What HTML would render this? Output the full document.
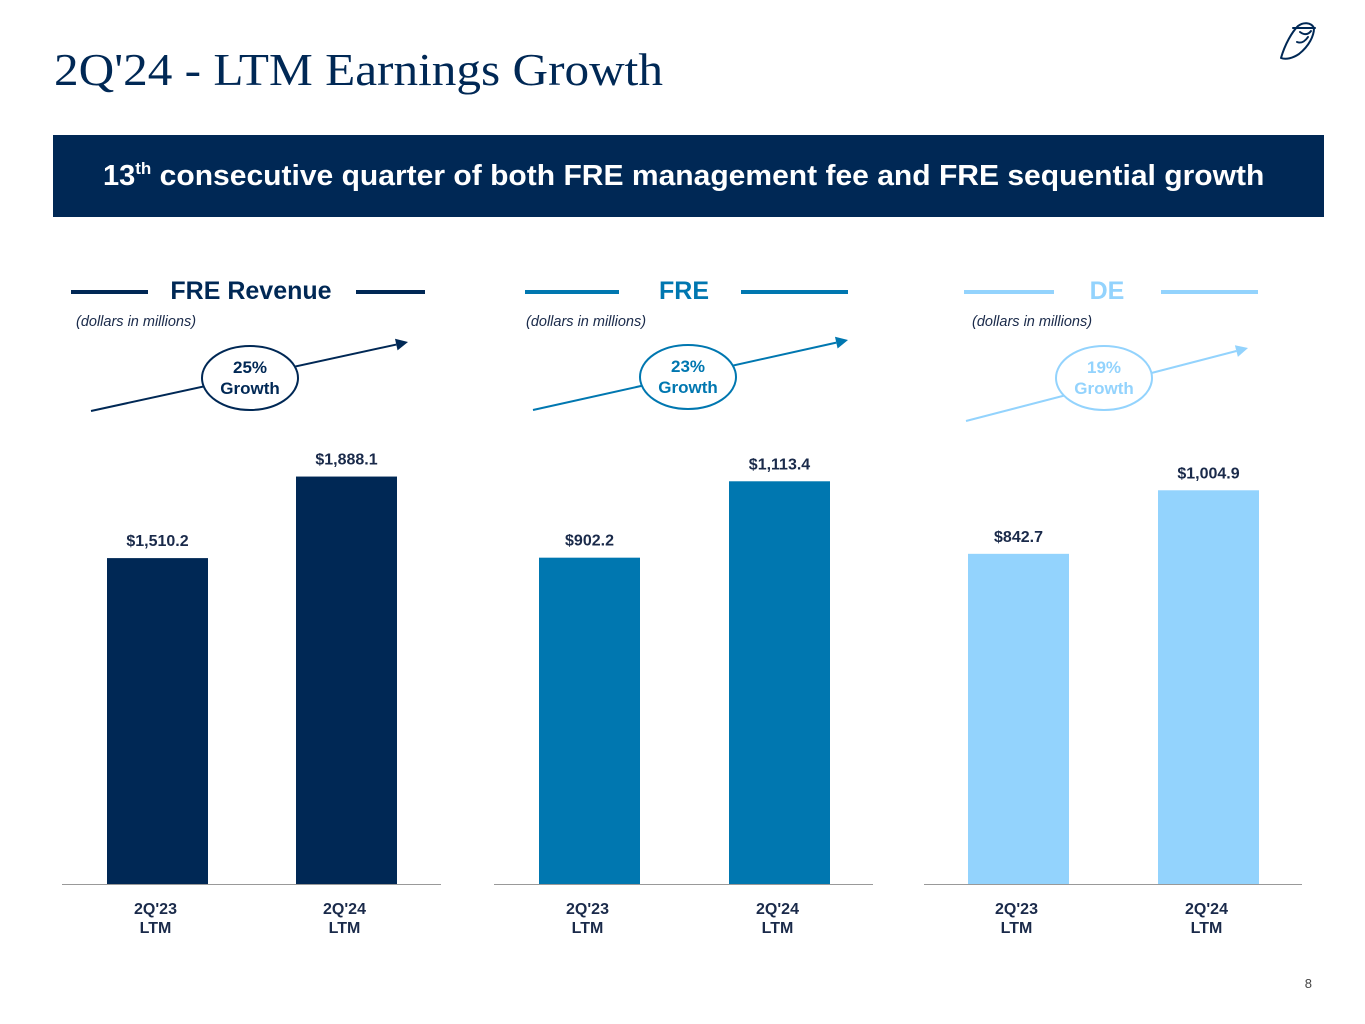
<!DOCTYPE html>
<html><head><meta charset="utf-8"><style>
html,body{margin:0;padding:0;background:#fff;}
body{width:1365px;height:1024px;overflow:hidden;position:relative;font-family:"Liberation Sans",sans-serif;}
svg{position:absolute;left:0;top:0;}
</style></head><body>
<svg id="s" width="1365" height="1024" xmlns="http://www.w3.org/2000/svg">
<text x="54" y="85" font-family="Liberation Serif, serif" font-size="46" textLength="609" lengthAdjust="spacingAndGlyphs" fill="#002855">2Q'24 - LTM Earnings Growth</text>
<g fill="none" stroke="#002855" stroke-width="2" stroke-linecap="round" stroke-linejoin="round">
<path d="M1281 58 C1285 44 1292 32 1298 26 C1303 22 1311 22 1314 28 C1314 36 1309 46 1299 54 C1293 58 1286 60 1281 58 Z"/>
<path d="M1293 28 L1315 28"/><path d="M1300 32 C1304 35 1308 35 1311 31"/><path d="M1297 42 C1302 44 1306 40 1308 37"/>
</g>
<rect x="53" y="135" width="1271" height="82" fill="#002855"/>
<text x="103" y="185" font-size="29" font-weight="bold" fill="#fff">13<tspan dy="-11" font-size="17">th</tspan><tspan dy="11" textLength="1113" lengthAdjust="spacingAndGlyphs"> consecutive quarter of both FRE management fee and FRE sequential growth</tspan></text>
<text x="1312" y="988" font-size="13" fill="#444" text-anchor="end">8</text>
<g id="charts"></g>
</svg>
<script>
const chartTitles = ["FRE Revenue", "FRE", "DE"];
const categories = ["2Q'23", "2Q'24"];
const seriesFREREV = [1510.2, 1888.1];
const seriesFRE = [902.2, 1113.4];
const seriesDE = [842.7, 1004.9];
const growthLabels = ["25%", "23%", "19%"];
const allSeries = [seriesFREREV, seriesFRE, seriesDE];
const colors = ["#002855", "#0077b0", "#93d3fd"];
const panels = [
  {x0:62,x1:441,note:76,bars:[107,296],l1:[71,148],l2:[356,425],tc:251,arrow:[91,411,408,342],ell:[250,378],scale:0.2158},
  {x0:494,x1:873,note:526,bars:[539,729],l1:[525,619],l2:[741,848],tc:684,arrow:[533,410,848,340],ell:[688,377],scale:0.3617},
  {x0:924,x1:1302,note:972,bars:[968,1158],l1:[964,1054],l2:[1161,1258],tc:1107,arrow:[966,421,1248,348],ell:[1104,378],scale:0.3918}
];
const base = 884, bw = 101;
const NS = "http://www.w3.org/2000/svg";
const g = document.getElementById('charts');
function mk(tag, attrs, parent, text){const e=document.createElementNS(NS,tag);for(const k in attrs)e.setAttribute(k,attrs[k]);if(text!==undefined)e.textContent=text;(parent||g).appendChild(e);return e;}
function yScale(p, v){return base - v*p.scale;}
panels.forEach((p, i) => {
  const c = colors[i];
  const grp = mk('g', {});
  
  
  let e = mk('line', {x1:p.l1[0],x2:p.l1[1],y1:292,y2:292,stroke:c,'stroke-width':4}, grp);
  
  
  e = mk('line', {x1:p.l2[0],x2:p.l2[1],y1:292,y2:292,stroke:c,'stroke-width':4}, grp);
  
  
  e = mk('text', {x:p.tc,y:299,'text-anchor':'middle','font-size':25,'font-weight':'bold',fill:c}, grp, chartTitles[i]);
  
  
  e = mk('text', {x:p.note,y:326,'font-size':14.5,'font-style':'italic',fill:'#1a2a4a'}, grp, '(dollars in millions)');
  
  
  const a = p.arrow;
  const ang = Math.atan2(a[3]-a[1], a[2]-a[0]);
  const hx = a[2]-12*Math.cos(ang), hy = a[3]-12*Math.sin(ang);
  e = mk('line', {x1:a[0],y1:a[1],x2:hx,y2:hy,stroke:c,'stroke-width':2}, grp);
  
  
  const px = -Math.sin(ang)*6, py = Math.cos(ang)*6;
  e = mk('polygon', {points:`${a[2]},${a[3]} ${hx+px},${hy+py} ${hx-px},${hy-py}`, fill:c}, grp);
  
  
  e = mk('ellipse', {cx:p.ell[0],cy:p.ell[1],rx:48,ry:32,fill:'#fff',stroke:c,'stroke-width':2}, grp);
  
  
  e = mk('text', {x:p.ell[0],y:p.ell[1]-5,'text-anchor':'middle','font-size':17,'font-weight':'bold',fill:c}, grp, growthLabels[i]);
  
  
  e = mk('text', {x:p.ell[0],y:p.ell[1]+16,'text-anchor':'middle','font-size':17,'font-weight':'bold',fill:c}, grp, 'Growth');
  
  
  allSeries[i].forEach((v, j) => {
    const x = p.bars[j], y = yScale(p, v);
    let r = mk('rect', {x:x,y:y,width:bw,height:base-y,fill:c}, grp);
    
    
    let t = mk('text', {x:x+bw/2,y:y-12,'text-anchor':'middle','font-size':16,'font-weight':'bold',fill:'#1a2a4a'}, grp, '$' + v.toLocaleString('en-US',{minimumFractionDigits:1,maximumFractionDigits:1}));
    
    
    t = mk('text', {x:x+bw/2-2,y:914,'text-anchor':'middle','font-size':16,'font-weight':'bold',fill:'#1a2a4a'}, grp, categories[j]);
    
    
    t = mk('text', {x:x+bw/2-2,y:933,'text-anchor':'middle','font-size':16,'font-weight':'bold',fill:'#1a2a4a'}, grp, 'LTM');
    
    
  });
  e = mk('line', {x1:p.x0,x2:p.x1,y1:base+0.5,y2:base+0.5,stroke:'#999','stroke-width':1}, grp);
  
  
});
</script>
</body></html>
